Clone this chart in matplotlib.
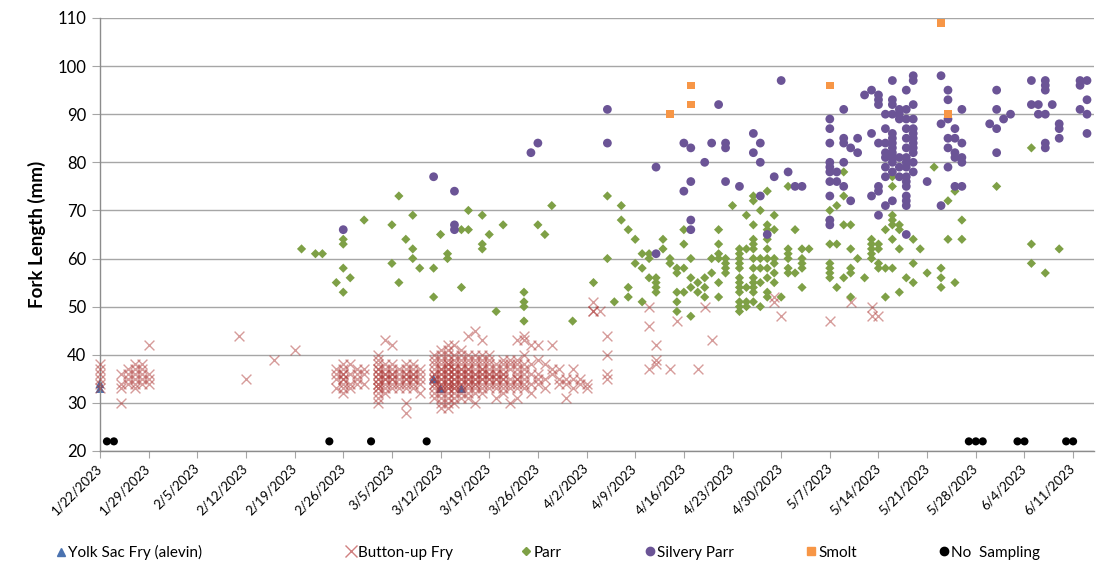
import matplotlib
matplotlib.use('Agg')
import matplotlib.pyplot as plt
from matplotlib.lines import Line2D
import pandas as pd

plt.rcParams['font.family'] = ['Lato', 'DejaVu Sans']

YEAR = 2023

yolk_dates = ['1/22', '3/11', '3/12', '3/15']
yolk_lengths = [[33, 34], [35], [33], [33]]

fry_dates = ['1/22', '1/25', '1/26', '1/27', '1/28', '1/29', '2/11', '2/12', '2/16', '2/19',
             '2/25', '2/26', '2/27', '2/28', '3/1', '3/3', '3/4', '3/5', '3/6', '3/7', '3/8', '3/9',
             '3/11', '3/12', '3/13', '3/14', '3/15', '3/16', '3/17', '3/18', '3/19', '3/20', '3/21',
             '3/22', '3/23', '3/24', '3/25', '3/26', '3/27', '3/28', '3/29', '3/30', '3/31', '4/1',
             '4/2', '4/3', '4/4', '4/5', '4/11', '4/12', '4/14', '4/15', '4/18', '4/19', '4/20',
             '4/29', '4/30', '5/7', '5/10', '5/13', '5/14']
fry_lengths = [
    [33, 34, 35, 36, 37, 38], [30, 33, 34, 36], [34, 35, 36, 37], [33, 34, 35, 36, 37, 38],
    [34, 35, 36, 37, 38], [34, 35, 36, 42], [44], [35], [39], [41],
    [33, 35, 36, 37], [32, 33, 34, 35, 36, 37, 38, 35, 36], [33, 34, 36, 38], [34, 35, 36, 37],
    [34, 36, 37],
    [30, 31, 32, 33, 34, 35, 36, 37, 38, 39, 40, 34, 35, 36, 37, 33],
    [32, 33, 34, 35, 36, 37, 38, 43, 35, 36], [33, 34, 35, 36, 37, 38, 42, 35, 36],
    [33, 34, 35, 36, 37], [28, 30, 33, 34, 35, 36, 37, 38, 35, 36],
    [33, 34, 35, 36, 37, 38, 35, 36], [32, 34, 35, 36, 37],
    [31, 32, 33, 34, 35, 36, 37, 38, 39, 40, 34, 35, 36],
    [29, 30, 31, 32, 33, 34, 35, 36, 37, 38, 39, 40, 41, 33, 34, 35, 36, 37],
    [29, 30, 31, 32, 33, 34, 35, 36, 37, 38, 39, 40, 41, 42, 33, 34, 35, 36, 37, 38],
    [30, 31, 32, 33, 34, 35, 36, 37, 38, 39, 40, 42, 33, 34, 35, 36, 37],
    [31, 32, 33, 34, 35, 36, 37, 38, 39, 40, 41, 34, 35, 36, 37],
    [31, 32, 33, 34, 35, 36, 37, 38, 39, 40, 44, 34, 35, 36, 37],
    [30, 32, 33, 34, 35, 36, 37, 38, 39, 40, 45, 34, 35, 36],
    [32, 33, 34, 35, 36, 37, 38, 39, 40, 43, 35, 36, 37],
    [33, 34, 35, 36, 37, 38, 39, 40, 35, 36],
    [31, 33, 34, 35, 36, 37, 38, 35, 36], [32, 33, 34, 35, 36, 37, 38, 39, 35, 36],
    [30, 33, 34, 35, 37, 38, 39],
    [31, 33, 34, 35, 36, 37, 38, 39, 43, 35], [33, 34, 35, 36, 37, 38, 40, 43, 44],
    [32, 34, 36, 38, 42], [34, 35, 36, 39, 42], [33, 35, 38], [36, 37, 42], [34, 35, 37],
    [31, 34, 35], [33, 35, 37], [34, 35], [33, 34], [51, 49, 49], [49], [44, 40, 36, 35],
    [50, 46, 37], [42, 39, 38], [37], [47], [37], [50], [43], [52, 51], [48], [47], [51],
    [50, 48], [48]]

parr_dates = ['2/20', '2/22', '2/23', '2/25', '2/26', '2/27', '3/1', '3/5', '3/6', '3/7', '3/8',
              '3/9', '3/11', '3/12', '3/13', '3/15', '3/16', '3/18', '3/19', '3/20', '3/21', '3/24',
              '3/26', '3/27', '3/28', '3/31', '4/3', '4/5', '4/6', '4/7', '4/8', '4/9', '4/10',
              '4/11', '4/12', '4/13', '4/14', '4/15', '4/16', '4/17', '4/18', '4/19', '4/20', '4/21',
              '4/22', '4/23', '4/24', '4/25', '4/26', '4/27', '4/28', '4/29', '4/30', '5/1', '5/2',
              '5/3', '5/4', '5/7', '5/8', '5/9', '5/10', '5/11', '5/12', '5/13', '5/14', '5/15',
              '5/16', '5/17', '5/18', '5/19', '5/20', '5/21', '5/22', '5/23', '5/24', '5/25', '5/26',
              '5/31', '6/5', '6/7', '6/9']
parr_lengths = [
    [62], [61], [61], [55], [64, 63, 58, 53], [56], [68], [67, 59], [73, 55], [64], [69, 62, 60],
    [58], [58, 52], [65], [61, 60], [66, 54], [66, 70], [69, 63, 62], [65], [49], [67],
    [53, 51, 50, 47], [67], [65], [71], [47], [55], [73, 60], [51], [71, 68], [66, 54, 52],
    [64, 59], [61, 58, 51], [61, 60, 56], [56, 55, 54, 53], [64, 62], [60, 59],
    [58, 57, 53, 51, 49], [66, 63, 58, 53], [60, 56, 54, 48], [55, 53], [56, 54, 52], [60, 57],
    [66, 63, 61, 60, 55, 52], [60, 59, 58, 57], [71],
    [62, 61, 60, 59, 58, 56, 55, 54, 53, 51, 50, 49], [69, 62, 54, 51, 50],
    [73, 72, 67, 64, 63, 62, 60, 58, 56, 55, 54, 53, 51], [70, 60, 58, 55, 50],
    [74, 67, 66, 64, 62, 60, 58, 56, 53, 52], [69, 66, 60, 59, 57, 55], [52],
    [75, 62, 61, 60, 58, 57], [66, 57], [62, 60, 59, 58, 54], [62],
    [70, 68, 63, 59, 58, 57, 56], [71, 63, 54], [78, 73, 67, 56], [67, 62, 58, 57, 52], [60],
    [56], [64, 63, 62, 61, 60], [63, 62, 59, 58], [66, 58, 52], [77, 75, 69, 68, 67, 64, 58],
    [67, 66, 62, 53], [56], [64, 59, 55], [62], [57], [79], [58, 56, 54], [72, 64], [74, 55],
    [68, 64], [75], [83, 63, 59], [57], [62]]

silvery_dates = ['2/26', '3/11', '3/14', '3/25', '3/26', '4/5', '4/12', '4/16', '4/17', '4/19',
                 '4/20', '4/21', '4/22', '4/24', '4/26', '4/27', '4/28', '4/29', '4/30', '5/1',
                 '5/2', '5/3', '5/7', '5/8', '5/9', '5/10', '5/11', '5/12', '5/13', '5/14', '5/15',
                 '5/16', '5/17', '5/18', '5/19', '5/21', '5/23', '5/24', '5/25', '5/26', '5/30',
                 '5/31', '6/1', '6/2', '6/5', '6/6', '6/7', '6/8', '6/9', '6/12', '6/13']
silvery_lengths = [
    [66], [77], [74, 67, 66], [82], [84], [91, 84], [79, 61], [84, 74], [83, 76, 68, 66], [80],
    [84], [92], [84, 83, 76], [75], [86, 82], [84, 80, 73], [65], [77], [97], [78], [75], [75],
    [89, 87, 84, 80, 79, 78, 76, 73, 68, 67], [78, 76], [91, 85, 84, 80, 75], [83, 72], [85, 82],
    [94], [95, 86, 73], [94, 93, 92, 84, 75, 74, 69], [90, 87, 84, 82, 81, 79, 77, 71],
    [97, 93, 92, 90, 86, 85, 84, 83, 82, 81, 80, 78, 72], [91, 90, 89, 81, 79, 77],
    [95, 91, 89, 87, 85, 83, 81, 80, 79, 77, 76, 75, 73, 72, 71, 65],
    [98, 97, 92, 89, 87, 86, 85, 84, 83, 82, 80, 78], [76], [98, 88, 71],
    [95, 93, 89, 85, 83, 79], [87, 85, 82, 81, 75], [91, 84, 81, 80, 75], [88],
    [95, 91, 87, 82], [89], [90], [97, 92], [92, 90], [97, 96, 95, 90, 84, 83], [92],
    [88, 87, 85], [97, 96, 91], [97, 93, 90, 86]]

smolt_dates = ['4/14', '4/17', '5/7', '5/23', '5/24']
smolt_lengths = [[90], [96, 92], [96], [109], [90]]

no_sampling_dates = ['1/23', '1/24', '2/24', '3/2', '3/10', '5/27', '5/28', '5/29',
                     '6/3', '6/4', '6/10', '6/11']
no_sampling_level = 22

labels = ['Yolk Sac Fry (alevin)', 'Button-up Fry', 'Parr', 'Silvery Parr', 'Smolt', 'No  Sampling']


def to_date(md):
    return pd.to_datetime(md + '/' + str(YEAR), format='%m/%d/%Y')


def expand(dates, lengths):
    xs, ys = [], []
    for d, vals in zip(dates, lengths):
        for v in vals:
            xs.append(to_date(d))
            ys.append(v)
    return xs, ys


fig = plt.figure(figsize=(11.01, 5.67), dpi=100)
ax = fig.add_axes([0.0908, 0.2046, 0.9028, 0.7637])

grid_col = '#A6A6A6'
for y in range(20, 111, 10):
    ax.axhline(y, color=grid_col, lw=1.0, zorder=0)

x, y = expand(yolk_dates, yolk_lengths)
ax.scatter(x, y, marker='^', s=42, color='#4A72B0', edgecolors='none', zorder=2, clip_on=False)
x, y = expand(fry_dates, fry_lengths)
ax.scatter(x, y, marker='x', s=50, color='#AE3A38', alpha=0.5, linewidths=1.0, zorder=3, clip_on=False)
x, y = expand(parr_dates, parr_lengths)
ax.scatter(x, y, marker='D', s=22, color='#7EA046', edgecolors='none', zorder=4, clip_on=False)
x, y = expand(silvery_dates, silvery_lengths)
ax.scatter(x, y, marker='o', s=40, color='#6B5496', edgecolors='none', zorder=5, clip_on=False)
x, y = expand(smolt_dates, smolt_lengths)
ax.scatter(x, y, marker='s', s=30, color='#F79646', edgecolors='none', zorder=6, clip_on=False)
x = [to_date(d) for d in no_sampling_dates]
ax.scatter(x, [no_sampling_level] * len(x), marker='o', s=34, color='black', edgecolors='none',
           zorder=6, clip_on=False)

start = to_date('1/22')
ax.set_xlim(start, start + pd.Timedelta(days=143))
ax.set_ylim(20, 110)
ticks = pd.date_range(start, to_date('6/11'), freq='7D')
ax.set_xticks(ticks)
ax.set_xticklabels([f'{t.month}/{t.day}/{t.year}' for t in ticks], rotation=45,
                   ha='right', va='center', rotation_mode='anchor', fontsize=9.5)
ax.set_yticks(range(20, 111, 10))
ax.tick_params(axis='y', labelsize=12, length=6, color=grid_col, pad=4)
ax.tick_params(axis='x', length=5, color=grid_col, pad=6)

for side in ['top', 'right']:
    ax.spines[side].set_visible(False)
for side in ['left', 'bottom']:
    ax.spines[side].set_color('#8C8C8C')
    ax.spines[side].set_linewidth(1.0)

ax.set_ylabel('Fork Length (mm)', fontsize=13.5, fontweight='bold', labelpad=8)

handles = [
    Line2D([], [], marker='^', ls='none', color='#4A72B0', markersize=6),
    Line2D([], [], marker='x', ls='none', color='#D08080', markersize=8, markeredgewidth=1),
    Line2D([], [], marker='D', ls='none', color='#7EA046', markersize=4),
    Line2D([], [], marker='o', ls='none', color='#6B5496', markersize=6),
    Line2D([], [], marker='s', ls='none', color='#F79646', markersize=6),
    Line2D([], [], marker='o', ls='none', color='black', markersize=6),
]
leg_x = [56, 346, 521, 645, 806, 939]
for h, lab, lx in zip(handles, labels, leg_x):
    fig.legend([h], [lab], loc='center left', bbox_to_anchor=(lx / 1101, 0.025),
               frameon=False, fontsize=11, handlelength=0.6, handletextpad=0.2,
               borderpad=0, borderaxespad=0)

fig.savefig('out.png', dpi=100)
